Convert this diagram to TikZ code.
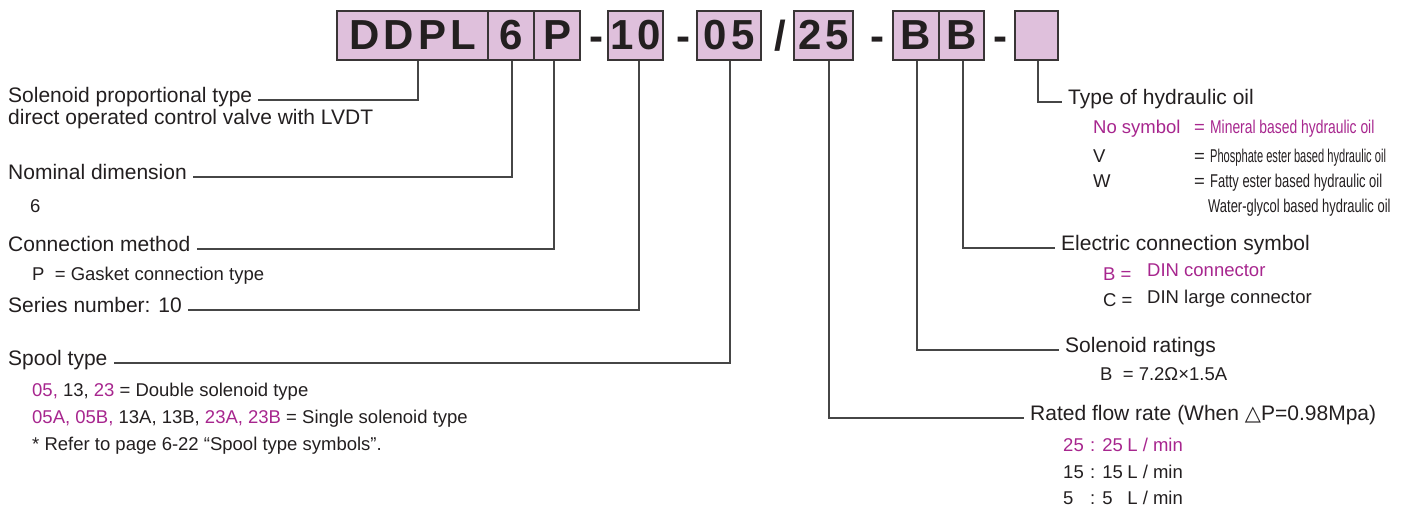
\documentclass[tikz,border=0pt]{standalone}
\usepackage{fontspec}
\usepackage{graphicx}
\setmainfont{Liberation Sans}
\newfontfamily\symfont{DejaVu Sans}
\usetikzlibrary{positioning}
\definecolor{ink}{RGB}{35,31,32}
\definecolor{codefill}{RGB}{223,192,220}
\definecolor{mag}{RGB}{167,38,142}
\definecolor{leadgray}{RGB}{70,70,70}
\newcommand{\narrow}[2]{\scalebox{#1}[1]{#2}}
\tikzset{
  codebox/.style={draw=ink!90, line width=1.3pt, fill=codefill, minimum height=49pt, inner sep=0pt,
    text=ink, font=\fontsize{42}{42}\selectfont\bfseries\addfontfeature{LetterSpace=10}},
  sep/.style={text=ink, inner sep=0pt, anchor=base, font=\fontsize{42}{42}\selectfont\bfseries},
  head/.style={text=ink, inner xsep=6pt, inner ysep=0pt, text height=0.75em, text depth=0.25em,
    font=\fontsize{21}{25}\selectfont},
  sub/.style={text=ink, inner sep=0pt, anchor=west, text height=0.75em, text depth=0.25em,
    font=\fontsize{18.5}{22}\selectfont},
  lead/.style={draw=leadgray, line width=1.1pt}
}

\begin{document}
\begin{tikzpicture}[x=1pt, y=-1pt]
  \useasboundingbox (0,0) rectangle (1405,509);

  % code boxes
  \node[codebox, minimum width=151pt] (ddpl) at (412.5,35.5) {DDPL};
  \node[codebox, minimum width=46pt] (size) at (511,35.5) {6};
  \node[codebox, minimum width=46pt] (conn) at (557,35.5) {P};
  \node[sep] (dasha) at (596,50.5) {-};
  \node[codebox, minimum width=55pt] (series) at (635.5,35.5) {10};
  \node[sep] (dashb) at (683,50.5) {-};
  \node[codebox, minimum width=64pt] (spool) at (729,35.5) {05};
  \node[sep] (slash) at (780,50.5) {/};
  \node[codebox, minimum width=59pt] (flow) at (823.5,35.5) {25};
  \node[sep] (dashc) at (877,50.5) {-};
  \node[codebox, minimum width=46pt] (rating) at (916,35.5) {B};
  \node[codebox, minimum width=45pt] (elec) at (961.5,35.5) {B};
  \node[sep] (dashd) at (1000,50.5) {-};
  \node[codebox, minimum width=43pt] (oil) at (1036.5,35.5) {};

  % left side
  \node[head, anchor=west] (typelbl) at (2,100) {Solenoid proportional type};
  \node[head, anchor=west] (typetxt) at (2,122) {direct operated control valve with LVDT};
  \node[head, anchor=west] (sizelbl) at (2,177) {Nominal dimension};
  \node[sub] (sizetxt) at (30,210) {6};
  \node[head, anchor=west] (connlbl) at (2,249) {Connection method};
  \node[sub] (conntxt) at (32,278) {P\ \ = Gasket connection type};
  \node[head, anchor=west] (serieslbl) at (2,310) {Series number: 10};
  \node[head, anchor=west] (spoollbl) at (2,363) {Spool type};
  \node[sub] (spoola) at (32,393.5) {\textcolor{mag}{05,} 13, \textcolor{mag}{23} = Double solenoid type};
  \node[sub] (spoolb) at (32,420.5) {\textcolor{mag}{05A, 05B,} 13A, 13B, \textcolor{mag}{23A, 23B} = Single solenoid type};
  \node[sub] (spoolc) at (32,448) {* Refer to page 6-22 “Spool type symbols”.};

  % right side
  \node[head, anchor=west] (oillbl) at (1062,102) {Type of hydraulic oil};
  \node[sub, text=mag] (oila) at (1093,131) {\makebox[101pt][l]{No symbol}= \narrow{0.75}{Mineral based hydraulic oil}};
  \node[sub] (oilb) at (1093,159.5) {\makebox[101pt][l]{V}= \narrow{0.6}{Phosphate ester based hydraulic oil}};
  \node[sub] (oilc) at (1093,184.5) {\makebox[101pt][l]{W}= \narrow{0.7}{Fatty ester based hydraulic oil}};
  \node[sub] (oild) at (1208,209.5) {\narrow{0.7}{Water-glycol based hydraulic oil}};
  \node[head, anchor=west] (eleclbl) at (1055,248) {Electric connection symbol};
  \node[sub, text=mag] (eleca) at (1103,278) {\makebox[44pt][l]{B =}\raisebox{4.5pt}{DIN connector}};
  \node[sub] (elecb) at (1103,303.5) {\makebox[44pt][l]{C =}\raisebox{3pt}{DIN large connector}};
  \node[head, anchor=west] (ratinglbl) at (1059,350) {Solenoid ratings};
  \node[sub] (ratingtxt) at (1100,378) {B\ \ = 7.2Ω×1.5A};
  \node[head, anchor=west] (flowlbl) at (1024,418) {Rated flow rate (When {\symfont △}P=0.98Mpa)};
  \node[sub, text=mag] (flowa) at (1063,448.5) {\makebox[27pt][l]{25}:\hspace{7pt}\makebox[25pt][l]{25}L / min};
  \node[sub] (flowb) at (1063,475.5) {\makebox[27pt][l]{15}:\hspace{7pt}\makebox[25pt][l]{15}L / min};
  \node[sub] (flowc) at (1063,502) {\makebox[27pt][l]{5}:\hspace{7pt}\makebox[25pt][l]{5}L / min};

  % leaders
  \draw[lead] ([xshift=5.5pt]ddpl.south) |- (typelbl.east);
  \draw[lead] ([xshift=1pt]size.south) |- (sizelbl.east);
  \draw[lead] ([xshift=-3pt]conn.south) |- (connlbl.east);
  \draw[lead] ([xshift=3.5pt]series.south) |- (serieslbl.east);
  \draw[lead] ([xshift=1pt]spool.south) |- (spoollbl.east);
  \draw[lead] ([xshift=5.5pt]flow.south) |- (flowlbl.west);
  \draw[lead] ([xshift=1pt]rating.south) |- (ratinglbl.west);
  \draw[lead] ([xshift=1.5pt]elec.south) |- (eleclbl.west);
  \draw[lead] ([xshift=1.5pt]oil.south) |- (oillbl.west);
\end{tikzpicture}
\end{document}
